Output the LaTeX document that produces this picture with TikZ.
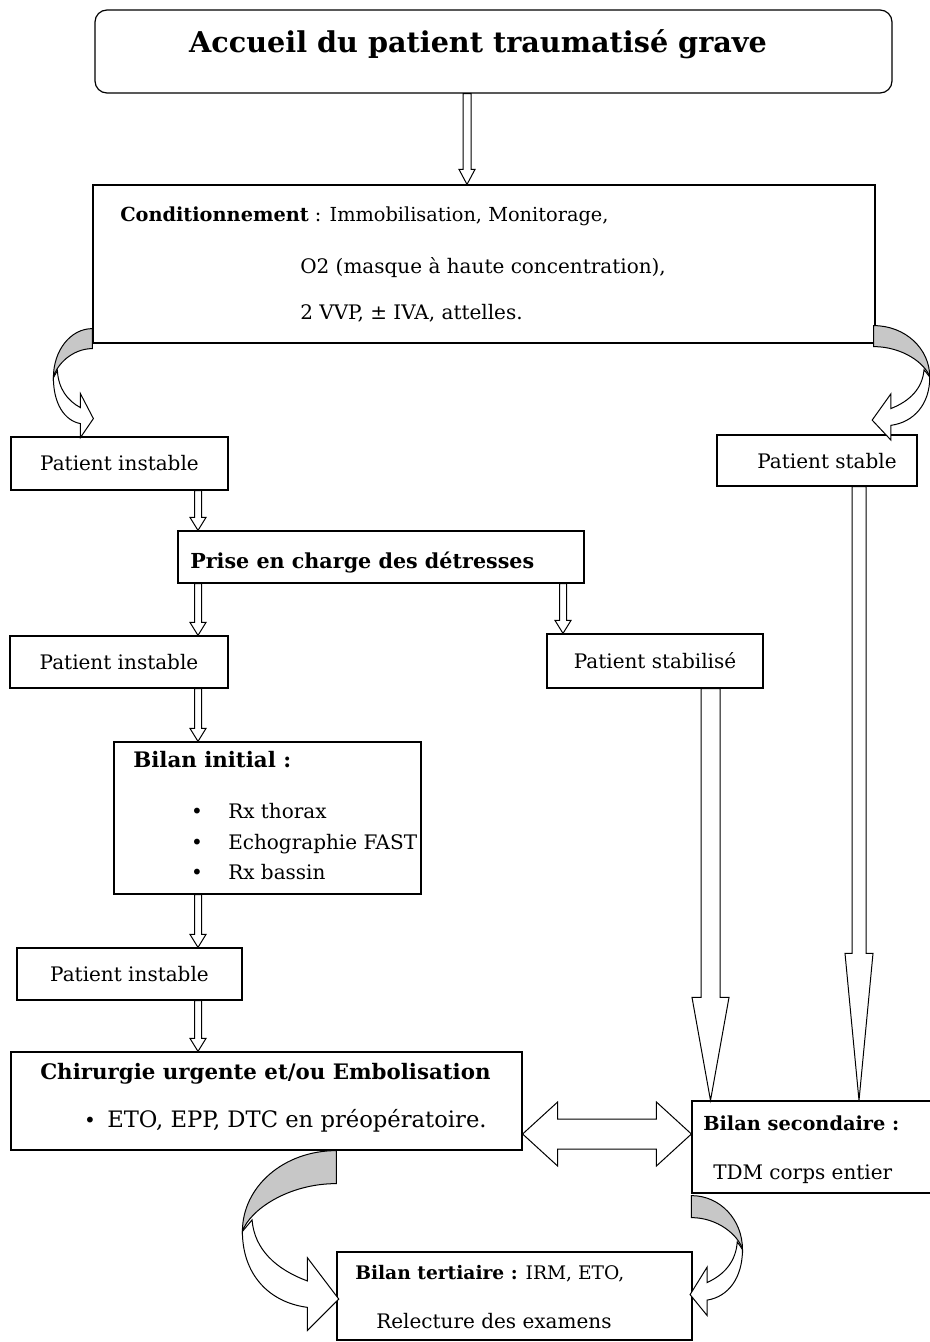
\documentclass[tikz,border=0pt]{standalone}
\usepackage{fontspec}
\setmainfont{DejaVu Serif}
\usetikzlibrary{calc}

\newlength{\pxu}
\setlength{\pxu}{0.75pt}
\newcommand{\fs}[1]{\fontsize{#1}{20}\selectfont}

\tikzset{
  box/.style={draw=black, line width=0.9pt, inner sep=0pt, font=\fs{15}},
  txt/.style={inner sep=0pt, anchor=base west, font=\fs{15}},
  bul/.style={inner sep=0pt, anchor=base, font=\fs{15}},
  blockdown/.style n args={3}{draw=black, line width=0.75pt, fill=white,
    to path={($(\tikztostart)+(-#1,0)$) -- ($(\tikztotarget)+(-#1,-#3)$) -- ($(\tikztotarget)+(-#2,-#3)$)
      -- (\tikztotarget) -- ($(\tikztotarget)+(#2,-#3)$) -- ($(\tikztotarget)+(#1,-#3)$) -- ($(\tikztostart)+(#1,0)$) -- cycle}},
  blockboth/.style n args={3}{draw=black, line width=0.75pt, fill=white,
    to path={(\tikztostart) -- ($(\tikztostart)+(#3,-#2)$) -- ($(\tikztostart)+(#3,-#1)$) -- ($(\tikztotarget)+(-#3,-#1)$)
      -- ($(\tikztotarget)+(-#3,-#2)$) -- (\tikztotarget) -- ($(\tikztotarget)+(-#3,#2)$) -- ($(\tikztotarget)+(-#3,#1)$)
      -- ($(\tikztostart)+(#3,#1)$) -- ($(\tikztostart)+(#3,#2)$) -- cycle}},
  backface/.style={draw=black, line width=0.75pt, fill=black!22},
  frontface/.style={draw=black, line width=0.75pt, fill=white},
}

% curved ribbon arrow: #1 origin on the box edge, #2 xscale, #3 yscale
\newcommand{\bentarrow}[3]{%
  \begin{scope}[shift={#1}, xscale=#2, yscale=#3]
    \path[frontface] (-39,49) .. controls (-39,75) and (-28,92) .. (-12,95) -- (-12,109) -- (1,90) -- (-12,65)
      -- (-12,79) .. controls (-25,72) and (-34,60) .. (-35,42) -- cycle;
    \path[backface] (0,0) .. controls (-22,0) and (-39,22) .. (-39,49) .. controls (-36,36) and (-20,20) .. (0,20) -- cycle;
  \end{scope}}

\begin{document}
\begin{tikzpicture}[x=0.75pt,y=-0.75pt]
\path[use as bounding box, fill=white] (0,0) rectangle (929,1342);

% boxes
\node[box, rounded corners=9pt, minimum width=797\pxu, minimum height=83\pxu] (top) at (493.5,51.5) {};
\node[inner sep=0pt, anchor=base, font=\bfseries\fs{21.5}] (ttl) at (478,52) {Accueil du patient traumatisé grave};

\node[box, minimum width=782\pxu, minimum height=158\pxu] (cond) at (484,264) {};
\node[txt, font=\fs{14.5}] (cond1) at (120,221) {\textbf{Conditionnement} : Immobilisation, Monitorage,};
\node[txt] (cond2) at (300,273) {O2 (masque à haute concentration),};
\node[txt] (cond3) at (300,319) {2 VVP, ± IVA, attelles.};

\node[box, minimum width=217\pxu, minimum height=53\pxu] (pi1) at (119.5,463.5) {Patient instable};
\node[box, minimum width=200\pxu, minimum height=51\pxu] (ps) at (817,460.5) {};
\node[txt, anchor=base] (pstxt) at (827,468) {Patient stable};

\node[box, minimum width=406\pxu, minimum height=52\pxu] (pec) at (381,557) {};
\node[txt, font=\bfseries\fs{15.5}] (pectxt) at (190,568) {Prise en charge des détresses};

\node[box, minimum width=218\pxu, minimum height=52\pxu] (pi2) at (119,662) {Patient instable};
\node[box, minimum width=216\pxu, minimum height=54\pxu] (pst) at (655,661) {Patient stabilisé};

\node[box, minimum width=307\pxu, minimum height=152\pxu] (bi) at (267.5,818) {};
\node[txt, font=\bfseries\fs{16}] (bitxt) at (133,767) {Bilan initial :};
\node[bul] (bul1) at (197,818) {•};
\node[txt] (bi1) at (228,818) {Rx thorax};
\node[bul] (bul2) at (197,849) {•};
\node[txt] (bi2) at (228,849) {Echographie FAST};
\node[bul] (bul3) at (197,879) {•};
\node[txt] (bi3) at (228,879) {Rx bassin};

\node[box, minimum width=225\pxu, minimum height=52\pxu] (pi3) at (129.5,974) {Patient instable};

\node[box, minimum width=511\pxu, minimum height=98\pxu] (chir) at (266.5,1101) {};
\node[txt, font=\bfseries\fs{16}] (chirtxt) at (40,1079) {Chirurgie urgente et/ou Embolisation};
\node[bul] (bul4) at (90,1127) {•};
\node[txt, font=\fs{17}] (chir1) at (107,1127) {ETO, EPP, DTC en préopératoire.};

\node[box, minimum width=240\pxu, minimum height=92\pxu] (bs) at (812,1147) {};
\node[txt, font=\bfseries\fs{14.5}] (bstxt) at (703,1130) {Bilan secondaire :};
\node[txt] (bs1) at (713,1179) {TDM corps entier};

\node[box, minimum width=355\pxu, minimum height=88\pxu] (bt) at (514.5,1296) {};
\node[txt, font=\fs{14}] (bttxt) at (355,1279) {\textbf{Bilan tertiaire :} IRM, ETO,};
\node[txt] (bt1) at (376,1328) {Relecture des examens};

% straight arrows
\draw[blockdown={4}{8}{15}] (top.south -| 467,0) to (cond.north -| 467,0);
\draw[blockdown={3.5}{8}{13}] (pi1.south -| 198,0) to (pec.north -| 198,0);
\draw[blockdown={3.5}{8}{13}] (pec.south -| 198,0) to (pi2.north -| 198,0);
\draw[blockdown={3.5}{8}{13}] (pec.south -| 563,0) to (pst.north -| 563,0);
\draw[blockdown={3.5}{8}{13}] (pi2.south -| 198,0) to (bi.north -| 198,0);
\draw[blockdown={3.5}{8}{13}] (bi.south -| 198,0) to (pi3.north -| 198,0);
\draw[blockdown={3.5}{8}{13}] (pi3.south -| 198,0) to (chir.north -| 198,0);
\draw[blockdown={9.5}{18.5}{103}] (pst.south -| 710.5,0) to (bs.north -| 710.5,0);
\draw[blockdown={7}{14}{147}] (ps.south -| 859,0) to (bs.north -| 859,0);
\draw[blockboth={15}{32}{35}] (chir.east |- 0,1134) to (bs.west |- 0,1134);

% curved arrows
\bentarrow{($(cond.south west)+(0,-15)$)}{1}{1}
\bentarrow{($(cond.south east)+(-2,-18)$)}{-1.44}{1.05}
\bentarrow{($(chir.south west)+(326,0)$)}{2.41}{1.65}
\bentarrow{($(bs.south west)+(0,2)$)}{-1.31}{1.1}
\end{tikzpicture}
\end{document}
